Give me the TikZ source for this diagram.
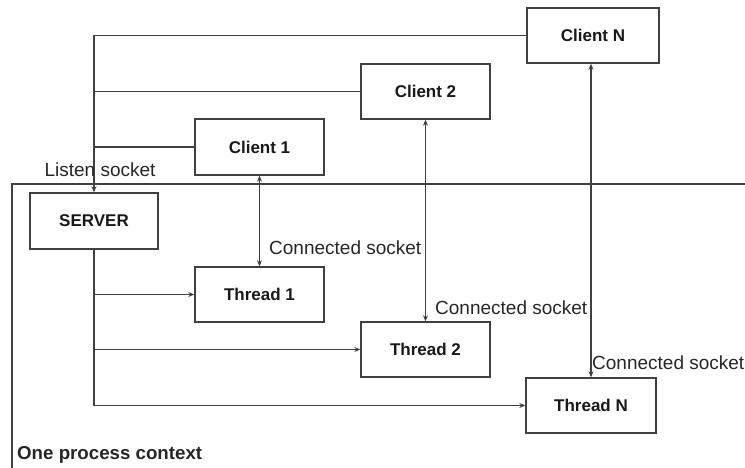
\documentclass[tikz,border=0pt]{standalone}
\usepackage{fontspec}
\setmainfont{Liberation Sans}
\usetikzlibrary{arrows.meta}
\tikzset{
  box/.style={draw=black!75, line width=1.4pt, fill=white, minimum width=129pt,
              minimum height=55pt, inner sep=0pt, text=black!90,
              font=\fontsize{17}{20}\selectfont\bfseries},
  wire/.style={draw=black!75, line width=1.3pt},
  tip/.style={-{Stealth[length=6pt,width=5pt]}},
  tips/.style={{Stealth[length=6pt,width=5pt]}-{Stealth[length=6pt,width=5pt]}},
  lbl/.style={inner sep=0pt, text=black!85, font=\fontsize{19}{22}\selectfont},
}
\begin{document}
\begin{tikzpicture}[x=1pt,y=-1pt]
  \useasboundingbox (0,0) rectangle (745,468);
  \clip (0,0) rectangle (745,468);

  % process context frame
  \coordinate (frameR) at (746,184);
  \coordinate (frameB) at (12,470);
  \draw[wire] (frameR) -| (frameB);
  \node[lbl, anchor=west, font=\fontsize{18.7}{22}\selectfont\bfseries] (ctx) at (17,455) {One process context};

  % clients
  \node[box, minimum width=132pt] (cN) at (593,35.5) {Client N};
  \node[box] (c2) at (425.5,91.5) {Client 2};
  \node[box, minimum height=56pt] (c1) at (259.5,147) {Client 1};

  % server and threads
  \node[box, minimum width=128pt, minimum height=56pt] (srv) at (94,221) {SERVER};
  \node[box] (t1) at (259.5,294.5) {Thread 1};
  \node[box] (t2) at (425.5,349.5) {Thread 2};
  \node[box, minimum width=130pt] (tN) at (591,405.5) {Thread N};

  % listen socket bus
  \draw[wire, tip] (cN.west) -| (srv.north);
  \draw[wire] (c2.west) -- (c2.west -| srv.north);
  \draw[wire] (c1.west) -- (c1.west -| srv.north);
  \node[lbl] (ls) at (100,170) {Listen socket};

  % server spawns threads
  \draw[wire, tip] (srv.south) |- (tN.west);
  \draw[wire, tip] (srv.south |- t1.west) -- (t1.west);
  \draw[wire, tip] (srv.south |- t2.west) -- (t2.west);

  % connected sockets
  \draw[wire, tips] (c1.south) -- (t1.north);
  \draw[wire, tips] (c2.south) -- (t2.north);
  \draw[wire, tips] (cN.south -| tN.north) -- (tN.north);
  \node[lbl, anchor=west] (cs1) at (269,248) {Connected socket};
  \node[lbl, anchor=west] (cs2) at (435,308) {Connected socket};
  \node[lbl, anchor=east] (csN) at (744.5,363) {Connected socket};
\end{tikzpicture}
\end{document}
